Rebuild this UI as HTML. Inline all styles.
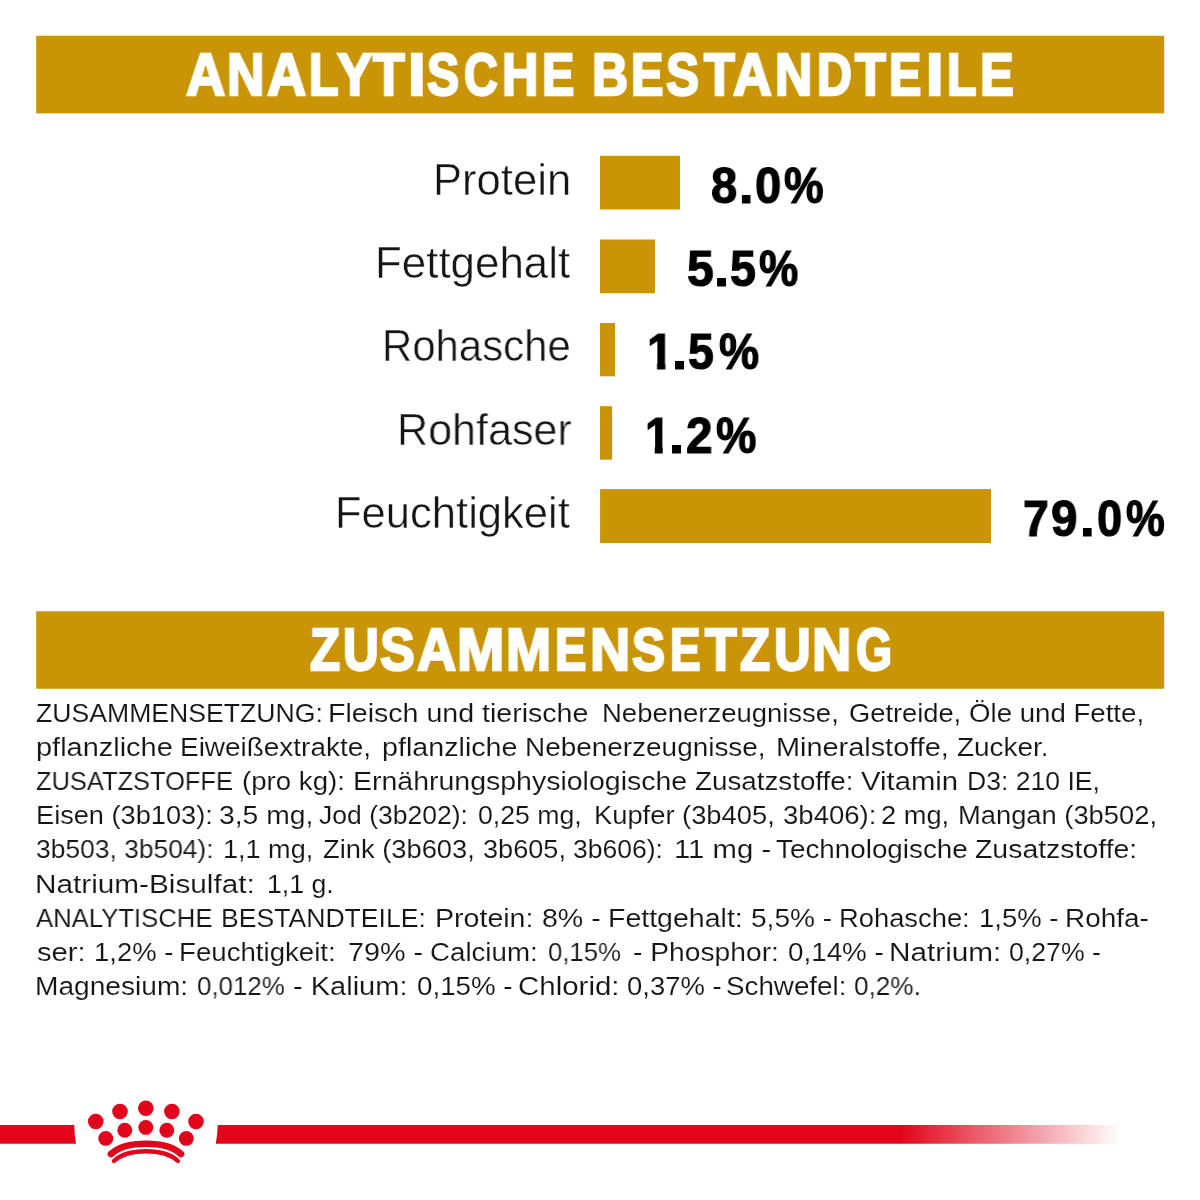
<!DOCTYPE html>
<html lang="de"><head><meta charset="utf-8"><title>Analytische Bestandteile</title>
<style>
html,body{margin:0;padding:0;background:#fff;}
body{width:1200px;height:1200px;position:relative;overflow:hidden;font-family:"Liberation Sans",sans-serif;}
.t{will-change:transform;position:absolute;white-space:nowrap;line-height:1;transform-origin:0 0;margin:0;padding:0;}
.h{font-size:58.4px;font-weight:bold;color:#fff;-webkit-text-stroke:2.4px #fff;}
.l{font-size:43.5px;color:#151513;-webkit-text-stroke:0.5px #fff;}
.v{font-size:50.5px;font-weight:bold;color:#000;-webkit-text-stroke:1.2px #000;}
.one{clip-path:polygon(-2px -10px,40px -10px,40px 35.15px,19.72px 35.15px,19.72px 70px,10.79px 70px,10.79px 35.15px,-2px 35.15px);}
.b{font-size:26.5px;color:#151513;-webkit-text-stroke:0.12px #fff;}
.bg{position:absolute;left:0;top:0;}
</style></head><body>
<svg class="bg" width="1200" height="1200" viewBox="0 0 1200 1200">
<defs><linearGradient id="fade" x1="0" x2="1" y1="0" y2="0" gradientUnits="objectBoundingBox">
<stop offset="0" stop-color="#e2041a"/><stop offset="0.695" stop-color="#e2041a"/><stop offset="0.92" stop-color="#e2041a" stop-opacity="0"/><stop offset="1" stop-color="#e2041a" stop-opacity="0"/></linearGradient></defs>
<g fill="#c99506"><rect x="36.2" y="35.75" width="1128.00" height="77.65"/><rect x="36.2" y="611.3" width="1128.00" height="77.45"/><rect x="600" y="155.8" width="80.00" height="53.70"/><rect x="600" y="239.5" width="55.00" height="53.80"/><rect x="600" y="323" width="15.00" height="53.30"/><rect x="600" y="406.2" width="12.10" height="53.50"/><rect x="600.1" y="489.1" width="390.90" height="54.00"/></g>
<path d="M0 1125 H74.25 Q74.4 1134.5 76 1143.8 H0 Z" fill="#e2041a"/>
<path d="M217.75 1125 H1200 V1143.8 H215.75 Q217.6 1134.5 217.75 1125 Z" fill="url(#fade)"/>
<g fill="#e2041a"><circle cx="95.75" cy="1121.5" r="7.8"/><circle cx="120" cy="1111.5" r="7.8"/><circle cx="145.8" cy="1108.2" r="7.8"/><circle cx="171.9" cy="1111.5" r="7.8"/><circle cx="196" cy="1121.5" r="7.8"/><circle cx="105.75" cy="1138.4" r="7.45"/><circle cx="124.8" cy="1130.25" r="7.45"/><circle cx="145.8" cy="1127.4" r="7.45"/><circle cx="166.8" cy="1130.25" r="7.45"/><circle cx="186.3" cy="1138.4" r="7.45"/></g>
<path d="M111 1154 C125.5 1140.3 166.5 1140.3 181 1154" fill="none" stroke="#e2041a" stroke-width="6.7" stroke-linecap="round"/>
<path d="M113.9 1161 C128 1148 164 1148 178 1161" fill="none" stroke="#e2041a" stroke-width="4.3" stroke-linecap="round"/>
</svg>
<div class="t h" style="left:185.85px;top:45.61px;transform:scaleX(0.9307)">A</div>
<div class="t h" style="left:226.81px;top:45.61px;transform:scaleX(0.8850)">N</div>
<div class="t h" style="left:266.75px;top:45.61px;transform:scaleX(0.9284)">A</div>
<div class="t h" style="left:309.48px;top:45.61px;transform:scaleX(0.8218)">L</div>
<div class="t h" style="left:337.28px;top:45.61px;transform:scaleX(0.9087)">Y</div>
<div class="t h" style="left:372.97px;top:45.61px;transform:scaleX(0.8835)">T</div>
<div class="t h" style="left:407.87px;top:45.61px;transform:scaleX(1.0837)">I</div>
<div class="t h" style="left:427.12px;top:45.61px;transform:scaleX(0.8247)">S</div>
<div class="t h" style="left:464.01px;top:45.61px;transform:scaleX(0.7993)">C</div>
<div class="t h" style="left:501.87px;top:45.61px;transform:scaleX(0.8605)">H</div>
<div class="t h" style="left:541.96px;top:45.61px;transform:scaleX(0.8280)">E</div>
<div class="t h" style="left:591.88px;top:45.61px;transform:scaleX(0.8561)">B</div>
<div class="t h" style="left:631.05px;top:45.61px;transform:scaleX(0.8308)">E</div>
<div class="t h" style="left:666.31px;top:45.61px;transform:scaleX(0.8462)">S</div>
<div class="t h" style="left:703.76px;top:45.61px;transform:scaleX(0.8618)">T</div>
<div class="t h" style="left:733.35px;top:45.61px;transform:scaleX(0.9189)">A</div>
<div class="t h" style="left:775.11px;top:45.61px;transform:scaleX(0.8850)">N</div>
<div class="t h" style="left:816.96px;top:45.61px;transform:scaleX(0.8283)">D</div>
<div class="t h" style="left:855.46px;top:45.61px;transform:scaleX(0.8618)">T</div>
<div class="t h" style="left:889.46px;top:45.61px;transform:scaleX(0.8280)">E</div>
<div class="t h" style="left:926.29px;top:45.61px;transform:scaleX(1.0745)">I</div>
<div class="t h" style="left:946.98px;top:45.61px;transform:scaleX(0.8218)">L</div>
<div class="t h" style="left:979.76px;top:45.61px;transform:scaleX(0.8650)">E</div>
<div class="t h" style="left:309.55px;top:621.16px;transform:scaleX(0.8428)">Z</div>
<div class="t h" style="left:343.04px;top:621.16px;transform:scaleX(0.8459)">U</div>
<div class="t h" style="left:379.59px;top:621.16px;transform:scaleX(0.8917)">S</div>
<div class="t h" style="left:416.75px;top:621.16px;transform:scaleX(0.9284)">A</div>
<div class="t h" style="left:457.37px;top:621.16px;transform:scaleX(0.9720)">M</div>
<div class="t h" style="left:505.80px;top:621.16px;transform:scaleX(0.9257)">M</div>
<div class="t h" style="left:555.32px;top:621.16px;transform:scaleX(0.8052)">E</div>
<div class="t h" style="left:589.92px;top:621.16px;transform:scaleX(0.9531)">N</div>
<div class="t h" style="left:632.11px;top:621.16px;transform:scaleX(0.8488)">S</div>
<div class="t h" style="left:670.38px;top:621.16px;transform:scaleX(0.7825)">E</div>
<div class="t h" style="left:704.67px;top:621.16px;transform:scaleX(0.8835)">T</div>
<div class="t h" style="left:740.35px;top:621.16px;transform:scaleX(0.8428)">Z</div>
<div class="t h" style="left:773.79px;top:621.16px;transform:scaleX(0.8673)">U</div>
<div class="t h" style="left:812.48px;top:621.16px;transform:scaleX(0.9313)">N</div>
<div class="t h" style="left:855.72px;top:621.16px;transform:scaleX(0.7972)">G</div>
<div class="t l" style="left:432.69px;top:159.38px;transform:scaleX(1.0026)">Protein</div>
<div class="t l" style="left:375.07px;top:241.78px;transform:scaleX(1.0091)">Fettgehalt</div>
<div class="t l" style="left:382.24px;top:325.18px;transform:scaleX(0.9634)">Rohasche</div>
<div class="t l" style="left:396.84px;top:408.58px;transform:scaleX(0.9906)">Rohfaser</div>
<div class="t l" style="left:335.10px;top:491.98px;transform:scaleX(1.0012)">Feuchtigkeit</div>
<div class="t v" style="left:711.33px;top:161.45px;transform:scaleX(0.9336)">8</div>
<div class="t v" style="left:739.09px;top:161.45px;transform:scaleX(1.0330)">.</div>
<div class="t v" style="left:755.17px;top:161.45px;transform:scaleX(0.9343)">0</div>
<div class="t v" style="left:784.41px;top:161.45px;transform:scaleX(0.8812)">%</div>
<div class="t v" style="left:687.42px;top:243.85px;transform:scaleX(0.9501)">5</div>
<div class="t v" style="left:714.45px;top:243.85px;transform:scaleX(1.0810)">.</div>
<div class="t v" style="left:729.95px;top:243.85px;transform:scaleX(0.9197)">5</div>
<div class="t v" style="left:759.42px;top:243.85px;transform:scaleX(0.8743)">%</div>
<div class="t v one" style="left:647.35px;top:327.25px;transform:scaleX(0.9311)">1</div>
<div class="t v" style="left:671.95px;top:327.25px;transform:scaleX(1.0810)">.</div>
<div class="t v" style="left:688.35px;top:327.25px;transform:scaleX(0.9159)">5</div>
<div class="t v" style="left:718.60px;top:327.25px;transform:scaleX(0.8927)">%</div>
<div class="t v one" style="left:645.43px;top:410.65px;transform:scaleX(0.9017)">1</div>
<div class="t v" style="left:669.45px;top:410.65px;transform:scaleX(1.0810)">.</div>
<div class="t v" style="left:685.64px;top:410.65px;transform:scaleX(0.9436)">2</div>
<div class="t v" style="left:716.10px;top:410.65px;transform:scaleX(0.8996)">%</div>
<div class="t v" style="left:1023.26px;top:494.05px;transform:scaleX(0.9166)">7</div>
<div class="t v" style="left:1050.61px;top:494.05px;transform:scaleX(0.9392)">9</div>
<div class="t v" style="left:1080.35px;top:494.05px;transform:scaleX(1.0450)">.</div>
<div class="t v" style="left:1097.03px;top:494.05px;transform:scaleX(0.8945)">0</div>
<div class="t v" style="left:1126.12px;top:494.05px;transform:scaleX(0.8628)">%</div>
<div class="t b" style="left:35.95px;top:699.57px;transform:scaleX(1.0043)">ZUSAMMENSETZUNG:</div>
<div class="t b" style="left:328.41px;top:699.57px;transform:scaleX(1.0778)">Fleisch und tierische</div>
<div class="t b" style="left:601.74px;top:699.57px;transform:scaleX(1.0369)">Nebenerzeugnisse,</div>
<div class="t b" style="left:848.55px;top:699.57px;transform:scaleX(1.0293)">Getreide,</div>
<div class="t b" style="left:968.62px;top:699.57px;transform:scaleX(1.0426)">Öle und Fette,</div>
<div class="t b" style="left:35.61px;top:733.77px;transform:scaleX(1.0922)">pflanzliche</div>
<div class="t b" style="left:179.96px;top:733.77px;transform:scaleX(1.0543)">Eiweißextrakte,</div>
<div class="t b" style="left:381.87px;top:733.77px;transform:scaleX(1.0820)">pflanzliche</div>
<div class="t b" style="left:525.46px;top:733.77px;transform:scaleX(1.0537)">Nebenerzeugnisse,</div>
<div class="t b" style="left:775.89px;top:733.77px;transform:scaleX(1.0897)">Mineralstoffe,</div>
<div class="t b" style="left:957.16px;top:733.77px;transform:scaleX(1.0542)">Zucker.</div>
<div class="t b" style="left:35.98px;top:767.97px;transform:scaleX(0.9600)">ZUSATZSTOFFE</div>
<div class="t b" style="left:242.02px;top:767.97px;transform:scaleX(1.0432)">(pro kg):</div>
<div class="t b" style="left:353.42px;top:767.97px;transform:scaleX(1.0750)">Ernährungsphysiologische</div>
<div class="t b" style="left:695.41px;top:767.97px;transform:scaleX(1.0477)">Zusatzstoffe:</div>
<div class="t b" style="left:860.83px;top:767.97px;transform:scaleX(1.1048)">Vitamin</div>
<div class="t b" style="left:966.81px;top:767.97px;transform:scaleX(1.0028)">D3: 210 IE,</div>
<div class="t b" style="left:35.51px;top:802.17px;transform:scaleX(1.0255)">Eisen (3b103):</div>
<div class="t b" style="left:219.00px;top:802.17px;transform:scaleX(1.0678)">3,5 mg,</div>
<div class="t b" style="left:319.34px;top:802.17px;transform:scaleX(1.0010)">Jod (3b202):</div>
<div class="t b" style="left:477.83px;top:802.17px;transform:scaleX(1.0059)">0,25 mg,</div>
<div class="t b" style="left:594.00px;top:802.17px;transform:scaleX(1.0308)">Kupfer (3b405,</div>
<div class="t b" style="left:782.78px;top:802.17px;transform:scaleX(1.0395)">3b406):</div>
<div class="t b" style="left:881.08px;top:802.17px;transform:scaleX(1.0275)">2 mg,</div>
<div class="t b" style="left:958.00px;top:802.17px;transform:scaleX(1.0310)">Mangan (3b502,</div>
<div class="t b" style="left:35.82px;top:836.37px;transform:scaleX(0.9960)">3b503, 3b504):</div>
<div class="t b" style="left:223.05px;top:836.37px;transform:scaleX(1.0208)">1,1 mg,</div>
<div class="t b" style="left:322.93px;top:836.37px;transform:scaleX(1.0304)">Zink (3b603,</div>
<div class="t b" style="left:482.79px;top:836.37px;transform:scaleX(1.0239)">3b605,</div>
<div class="t b" style="left:572.82px;top:836.37px;transform:scaleX(0.9962)">3b606):</div>
<div class="t b" style="left:674.14px;top:836.37px;transform:scaleX(1.1056)">11 mg -</div>
<div class="t b" style="left:775.59px;top:836.37px;transform:scaleX(1.0498)">Technologische</div>
<div class="t b" style="left:975.39px;top:836.37px;transform:scaleX(1.0730)">Zusatzstoffe:</div>
<div class="t b" style="left:35.33px;top:870.57px;transform:scaleX(1.1223)">Natrium-Bisulfat:</div>
<div class="t b" style="left:266.83px;top:870.57px;transform:scaleX(1.0067)">1,1 g.</div>
<div class="t b" style="left:36.44px;top:904.77px;transform:scaleX(0.9689)">ANALYTISCHE</div>
<div class="t b" style="left:221.31px;top:904.77px;transform:scaleX(1.0034)">BESTANDTEILE:</div>
<div class="t b" style="left:434.91px;top:904.77px;transform:scaleX(1.0779)">Protein:</div>
<div class="t b" style="left:542.41px;top:904.77px;transform:scaleX(1.0770)">8% -</div>
<div class="t b" style="left:607.92px;top:904.77px;transform:scaleX(1.0761)">Fettgehalt:</div>
<div class="t b" style="left:751.07px;top:904.77px;transform:scaleX(1.0590)">5,5% -</div>
<div class="t b" style="left:839.25px;top:904.77px;transform:scaleX(1.0316)">Rohasche:</div>
<div class="t b" style="left:979.27px;top:904.77px;transform:scaleX(1.0364)">1,5% -</div>
<div class="t b" style="left:1064.96px;top:904.77px;transform:scaleX(1.0518)">Rohfa-</div>
<div class="t b" style="left:36.52px;top:938.97px;transform:scaleX(1.1012)">ser:</div>
<div class="t b" style="left:94.27px;top:938.97px;transform:scaleX(1.0364)">1,2% -</div>
<div class="t b" style="left:179.23px;top:938.97px;transform:scaleX(1.0431)">Feuchtigkeit:</div>
<div class="t b" style="left:348.47px;top:938.97px;transform:scaleX(1.0846)">79% -</div>
<div class="t b" style="left:429.77px;top:938.97px;transform:scaleX(1.0445)">Calcium:</div>
<div class="t b" style="left:547.87px;top:938.97px;transform:scaleX(0.9715)">0,15%</div>
<div class="t b" style="left:632.75px;top:938.97px;transform:scaleX(1.0649)">- Phosphor:</div>
<div class="t b" style="left:787.80px;top:938.97px;transform:scaleX(1.0493)">0,14% -</div>
<div class="t b" style="left:889.08px;top:938.97px;transform:scaleX(1.1220)">Natrium:</div>
<div class="t b" style="left:1009.08px;top:938.97px;transform:scaleX(1.0073)">0,27% -</div>
<div class="t b" style="left:35.44px;top:973.17px;transform:scaleX(1.0610)">Magnesium:</div>
<div class="t b" style="left:196.61px;top:973.17px;transform:scaleX(0.9778)">0,012%</div>
<div class="t b" style="left:292.97px;top:973.17px;transform:scaleX(1.0948)">- Kalium:</div>
<div class="t b" style="left:416.55px;top:973.17px;transform:scaleX(1.0465)">0,15% -</div>
<div class="t b" style="left:518.43px;top:973.17px;transform:scaleX(1.1114)">Chlorid:</div>
<div class="t b" style="left:626.56px;top:973.17px;transform:scaleX(1.0353)">0,37% -</div>
<div class="t b" style="left:725.82px;top:973.17px;transform:scaleX(1.0481)">Schwefel:</div>
<div class="t b" style="left:854.10px;top:973.17px;transform:scaleX(0.9868)">0,2%.</div>
</body></html>
